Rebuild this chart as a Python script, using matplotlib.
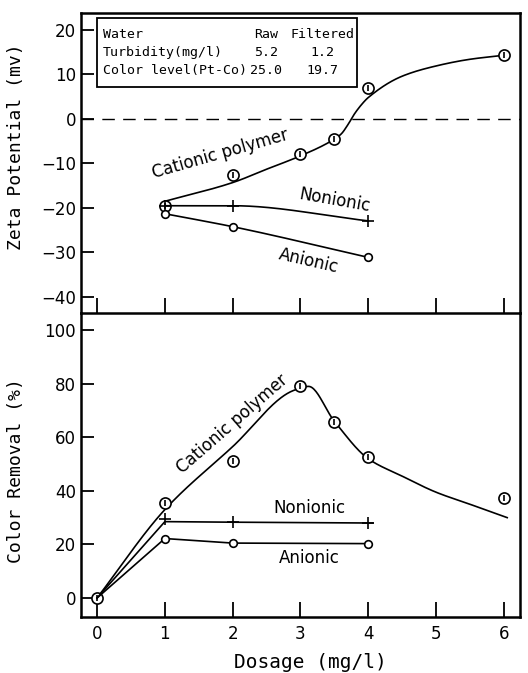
import numpy as np
import matplotlib
matplotlib.use('Agg')
import matplotlib.pyplot as plt
from matplotlib.patches import Rectangle

# ---- data ----
# zeta potential (mv)
zeta_cat_x = [1, 2, 3, 3.5, 4, 6]
zeta_cat_y = [-19.5, -12.5, -7.8, -4.6, 6.9, 14.3]
zeta_cat_fit_x = [1, 2, 2.5, 3, 3.45, 3.6, 3.7, 3.8, 3.9, 4, 4.5, 5, 5.5, 6]
zeta_cat_fit_y = [-18.5, -14.3, -11.3, -8.3, -5.0, -3.4, -1.3, 1.2, 3.2, 4.8, 9.6, 11.9, 13.4, 14.3]
zeta_non_x = [1, 2, 4]
zeta_non_y = [-19.5, -19.5, -22.9]
zeta_ani_x = [1, 2, 4]
zeta_ani_y = [-21.3, -24.2, -31.1]

# color removal (%)
cr_cat_x = [0, 1, 2, 3, 3.5, 4, 6]
cr_cat_y = [0, 35.3, 51, 79, 65.8, 52.5, 37.5]
cr_cat_fit_x = [0, 1, 2, 2.9, 3.12, 3.5, 4, 4.5, 5, 5.5, 6.05]
cr_cat_fit_y = [0, 33, 56.5, 77.5, 79, 66, 52, 45.5, 39.5, 35, 30]
cr_non_x = [0, 1, 1.05, 2, 4, 4.07]
cr_non_y = [0, 28.5, 28.5, 28.3, 28, 28]
cr_non_mx = [1, 2, 4]
cr_non_my = [29.5, 28.3, 28]
cr_ani_x = [0, 1, 2, 4]
cr_ani_y = [0, 22.2, 20.5, 20.3]

table_rows = [('Water', 'Raw', 'Filtered'),
              ('Turbidity(mg/l)', '5.2', '1.2'),
              ('Color level(Pt-Co)', '25.0', '19.7')]


def pchip(xs, ys, n=400):
    # monotone cubic through the knots (no overshoot)
    x = np.asarray(xs, float)
    y = np.asarray(ys, float)
    h = np.diff(x)
    d = np.diff(y) / h
    m = np.zeros_like(y)
    for k in range(1, len(x) - 1):
        if d[k - 1] * d[k] > 0:
            w1 = 2 * h[k] + h[k - 1]
            w2 = h[k] + 2 * h[k - 1]
            m[k] = (w1 + w2) / (w1 / d[k - 1] + w2 / d[k])
    m[0] = d[0]
    m[-1] = d[-1]
    xx = np.linspace(x[0], x[-1], n)
    idx = np.clip(np.searchsorted(x, xx) - 1, 0, len(x) - 2)
    t = (xx - x[idx]) / h[idx]
    h00 = 2 * t ** 3 - 3 * t ** 2 + 1
    h10 = t ** 3 - 2 * t ** 2 + t
    h01 = -2 * t ** 3 + 3 * t ** 2
    h11 = t ** 3 - t ** 2
    yy = h00 * y[idx] + h10 * h[idx] * m[idx] + h01 * y[idx + 1] + h11 * h[idx] * m[idx + 1]
    return xx, yy


plt.rcParams['font.family'] = 'DejaVu Sans'
fig = plt.figure(figsize=(5.28, 6.73), dpi=100)
ax1 = fig.add_axes([0.153, 0.5349, 0.832, 0.4458])
ax2 = fig.add_axes([0.153, 0.0832, 0.832, 0.4517])
ax2.patch.set_visible(False)

LW = 1.2
for ax in (ax1, ax2):
    ax.set_xlim(-0.24, 6.24)
    for s in ax.spines.values():
        s.set_linewidth(1.8)
    ax.tick_params(direction='in', length=9, width=1.3, labelsize=12)
    ax.set_xticks(range(7))

# top panel
ax1.set_ylim(-43.6, 23.8)
ax1.set_yticks([-40, -30, -20, -10, 0, 10, 20])
ax1.set_yticklabels(['\u221240', '\u221230', '\u221220', '\u221210', '0', '10', '20'])
ax1.tick_params(axis='x', labelbottom=False, length=11)
ax1.axhline(0, color='k', lw=1.0, ls=(0, (9, 6)))

fx, fy = pchip(zeta_cat_fit_x, zeta_cat_fit_y)
ax1.plot(fx, fy, color='k', lw=LW)
ax1.plot(zeta_cat_x, zeta_cat_y, 'o', ms=8, mfc='white', mec='k', mew=1.2)
ax1.plot(zeta_cat_x, zeta_cat_y, '|', ms=5, color='k', mew=1.2)
nx, ny = pchip(zeta_non_x, zeta_non_y)
ax1.plot(nx, ny, color='k', lw=LW)
ax1.plot(zeta_non_x, zeta_non_y, '+', ms=9, color='k', mew=1.2)
axx, ayy = pchip(zeta_ani_x, zeta_ani_y)
ax1.plot(axx, ayy, color='k', lw=LW)
ax1.plot(zeta_ani_x, zeta_ani_y, 'o', ms=5.5, mfc='white', mec='k', mew=1.2)

ax1.text(1.81, -7.8, 'Cationic polymer', rotation=16, fontsize=12, ha='center', va='center')
ax1.text(3.5, -18.4, 'Nonionic', rotation=-10, fontsize=12, ha='center', va='center')
ax1.text(3.12, -31.8, 'Anionic', rotation=-13, fontsize=12, ha='center', va='center')

# info box
ax1.add_patch(Rectangle((0.036, 0.753), 0.593, 0.23, transform=ax1.transAxes,
                        fill=False, lw=1.3, ec='k'))
row_y = [0.927, 0.867, 0.807]
for (name, raw, filt), yy in zip(table_rows, row_y):
    ax1.text(0.05, yy, name, transform=ax1.transAxes, fontsize=9.5,
             family='DejaVu Sans Mono', va='center', ha='left')
    ax1.text(0.422, yy, raw, transform=ax1.transAxes, fontsize=9.5,
             family='DejaVu Sans Mono', va='center', ha='center')
    ax1.text(0.551, yy, filt, transform=ax1.transAxes, fontsize=9.5,
             family='DejaVu Sans Mono', va='center', ha='center')

ax1.set_ylabel('Zeta Potential (mv)', family='DejaVu Sans Mono', fontsize=13)
ax1.yaxis.set_label_coords(-0.128, 0.553)

# bottom panel
ax2.set_ylim(-7.1, 106.4)
ax2.set_yticks([0, 20, 40, 60, 80, 100])
ax2.tick_params(axis='x', length=11, pad=6)
ax2.spines['top'].set_visible(False)

fx, fy = pchip(cr_cat_fit_x, cr_cat_fit_y)
ax2.plot(fx, fy, color='k', lw=LW)
ax2.plot(cr_cat_x, cr_cat_y, 'o', ms=8, mfc='white', mec='k', mew=1.2)
ax2.plot(cr_cat_x, cr_cat_y, '|', ms=5, color='k', mew=1.2)
ax2.plot(cr_non_x, cr_non_y, color='k', lw=LW)
ax2.plot(cr_non_mx, cr_non_my, '+', ms=9, color='k', mew=1.2)
ax2.plot(cr_ani_x, cr_ani_y, color='k', lw=LW)
ax2.plot(cr_ani_x[1:], cr_ani_y[1:], 'o', ms=5.5, mfc='white', mec='k', mew=1.2)

ax2.text(2.0, 65, 'Cationic polymer', rotation=41, fontsize=12, ha='center', va='center')
ax2.text(3.13, 33.5, 'Nonionic', fontsize=12, ha='center', va='center')
ax2.text(3.13, 15, 'Anionic', fontsize=12, ha='center', va='center')

ax2.set_ylabel('Color Removal (%)', family='DejaVu Sans Mono', fontsize=13)
ax2.yaxis.set_label_coords(-0.128, 0.483)
fig.text(310 / 528, 1 - 663 / 673, 'Dosage (mg/l)', family='DejaVu Sans Mono',
         fontsize=14, ha='center', va='center')

fig.savefig('out.png', dpi=100, facecolor='white')
